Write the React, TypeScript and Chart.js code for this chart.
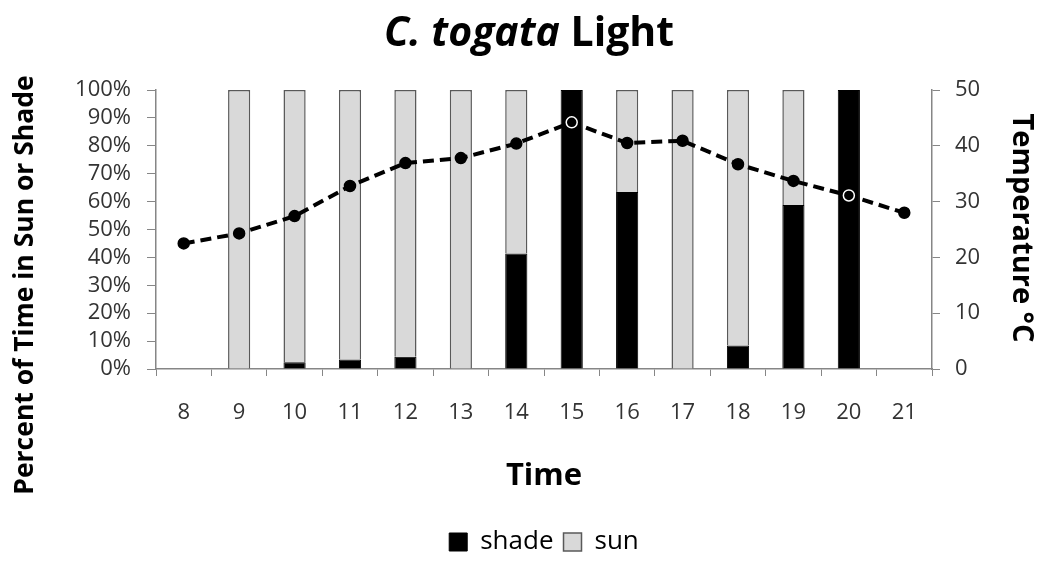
import React, { useEffect, useRef } from "react";
import { Chart, registerables } from "chart.js";

Chart.register(...registerables);

const categories = ["8", "9", "10", "11", "12", "13", "14", "15", "16", "17", "18", "19", "20", "21"];
const shadeValues = [0, 0, 2.4, 3.4, 4.4, 0, 41.4, 100, 63.4, 0, 8.4, 58.8, 100, 0];
const sunValues = [0, 100, 97.6, 96.6, 95.6, 100, 58.6, 0, 36.6, 100, 91.6, 41.2, 0, 0];
const temperatureValues = [22.5, 24.3, 27.4, 32.8, 36.9, 37.8, 40.4, 44.2, 40.5, 40.9, 36.7, 33.7, 31.1, 28.0];
const percentTicks = [0, 10, 20, 30, 40, 50, 60, 70, 80, 90, 100];
const tempTicks = [0, 10, 20, 30, 40, 50];

const FONT = "'Open Sans', Lato, sans-serif";

const textPlugin = {
  id: "customText",
  afterDraw(chart: any) {
    const ctx = chart.ctx;
    ctx.save();
    ctx.fillStyle = "#000";
    ctx.textBaseline = "alphabetic";
    // Title with mixed style
    const italicFont = `italic bold 41px ${FONT}`;
    const boldFont = `bold 41px ${FONT}`;
    const part1 = "C. togata ";
    const part2 = "Light";
    ctx.font = italicFont;
    const w1 = ctx.measureText(part1).width;
    ctx.font = boldFont;
    const w2 = ctx.measureText(part2).width;
    const cx = 529;
    const x = cx - (w1 + w2) / 2;
    ctx.textAlign = "left";
    ctx.font = italicFont;
    ctx.fillText(part1, x, 46);
    ctx.font = boldFont;
    ctx.fillText(part2, x + w1, 46);

    // X axis title
    ctx.textAlign = "center";
    ctx.font = `bold 31px ${FONT}`;
    ctx.fillText("Time", 544, 485);

    // Left axis title
    ctx.save();
    ctx.translate(33, 285);
    ctx.rotate(-Math.PI / 2);
    ctx.font = `bold 26.5px ${FONT}`;
    ctx.fillText("Percent of Time in Sun or Shade", 0, 0);
    ctx.restore();

    // Right axis title
    ctx.save();
    ctx.translate(1013, 228);
    ctx.rotate(Math.PI / 2);
    ctx.font = `bold 29px ${FONT}`;
    ctx.fillText("Temperature °C", 0, 0);
    ctx.restore();

    ctx.restore();
  },
};

export default function App() {
  const canvasRef = useRef<HTMLCanvasElement | null>(null);

  useEffect(() => {
    if (!canvasRef.current) return;
    const pointBorders = shadeValues.map((v) => (v >= 100 ? "#ffffff" : "#000000"));
    const chart = new Chart(canvasRef.current, {
      type: "bar",
      data: {
        labels: categories,
        datasets: [
          {
            type: "line",
            label: "Temperature",
            data: temperatureValues,
            yAxisID: "y1",
            borderColor: "#000",
            borderWidth: 4,
            borderDash: [11, 6],
            pointRadius: 5.5,
            pointBackgroundColor: "#000",
            pointBorderColor: pointBorders,
            pointBorderWidth: 1.5,
            fill: false,
            tension: 0,
            order: 0,
          } as any,
          {
            label: "shade",
            data: shadeValues,
            yAxisID: "y",
            backgroundColor: "#000000",
            borderColor: "#000000",
            borderWidth: 1,
            barPercentage: 0.4,
            categoryPercentage: 1,
            stack: "s",
            order: 1,
          },
          {
            label: "sun",
            data: sunValues,
            yAxisID: "y",
            backgroundColor: "#d9d9d9",
            borderColor: "#595959",
            borderWidth: 1.5,
            barPercentage: 0.4,
            categoryPercentage: 1,
            stack: "s",
            order: 1,
          },
        ],
      },
      options: {
        animation: false,
        responsive: false,
        maintainAspectRatio: false,
        layout: { padding: { top: 90, left: 0, right: 0, bottom: -4 } },
        plugins: {
          title: { display: false },
          tooltip: { enabled: false },
          legend: {
            display: true,
            position: "bottom",
            fullSize: false,
            labels: {
              filter: (item: any) => item.text !== "Temperature",
              boxWidth: 18,
              boxHeight: 18,
              padding: 10,
              color: "#000",
              font: { family: FONT, size: 26 },
            },
          },
        },
        scales: {
          x: {
            stacked: true,
            grid: {
              display: true,
              drawOnChartArea: false,
              offset: true,
              tickLength: 7,
              color: "#868686",
            },
            border: { display: true, color: "#868686", width: 1.5 },
            ticks: {
              color: "#333",
              font: { family: FONT, size: 22 },
              padding: 24,
            },
            afterFit: (scale: any) => {
              scale.height = 150;
            },
          },
          y: {
            stacked: true,
            position: "left",
            min: 0,
            max: 100,
            afterBuildTicks: (scale: any) => {
              scale.ticks = percentTicks.map((v) => ({ value: v }));
            },
            grid: {
              display: true,
              drawOnChartArea: false,
              tickLength: 9,
              color: "#868686",
            },
            border: { display: true, color: "#868686", width: 1.5 },
            ticks: {
              color: "#333",
              font: { family: FONT, size: 22 },
              padding: 16,
              autoSkip: false,
              callback: (v: any) => `${v}%`,
            },
            afterFit: (scale: any) => {
              scale.width = 156;
            },
          },
          y1: {
            position: "right",
            min: 0,
            max: 50,
            afterBuildTicks: (scale: any) => {
              scale.ticks = tempTicks.map((v) => ({ value: v }));
            },
            grid: {
              display: true,
              drawOnChartArea: false,
              tickLength: 8,
              color: "#868686",
            },
            border: { display: true, color: "#868686", width: 1.5 },
            ticks: {
              color: "#333",
              font: { family: FONT, size: 22 },
              padding: 15,
              autoSkip: false,
            },
            afterFit: (scale: any) => {
              scale.width = 113;
            },
          },
        },
      },
      plugins: [textPlugin],
    });
    return () => chart.destroy();
  }, []);

  return (
    <div style={{ position: "absolute", left: 0, top: 0, width: 1045, height: 561, background: "#fff" }}>
      <canvas ref={canvasRef} width={1045} height={561} style={{ width: 1045, height: 561 }} />
    </div>
  );
}
